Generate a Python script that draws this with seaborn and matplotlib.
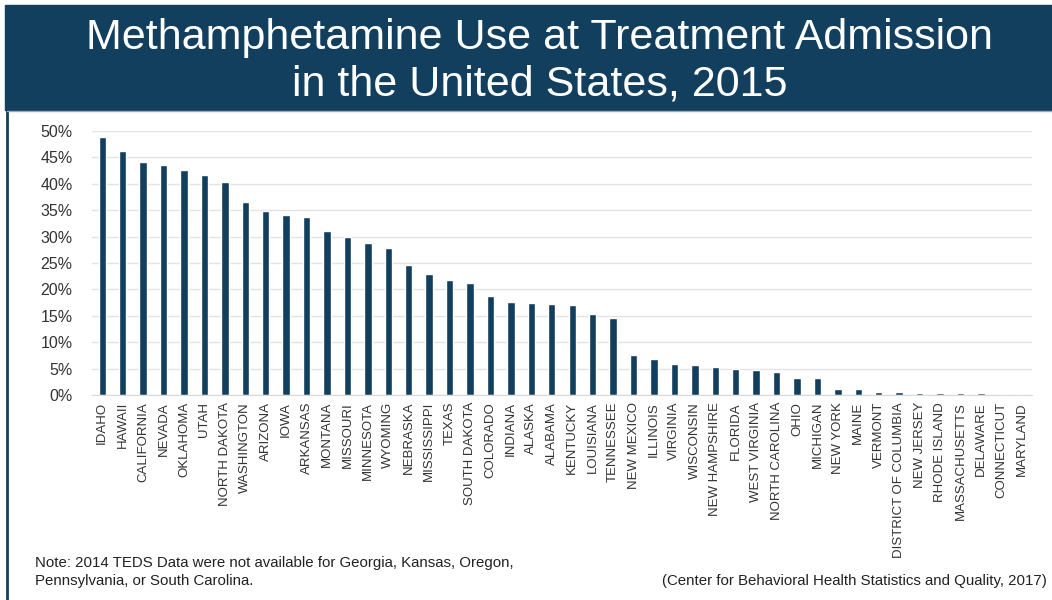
import pandas as pd
import matplotlib.pyplot as plt
import seaborn as sns
from matplotlib.patches import Rectangle
from matplotlib.lines import Line2D
from matplotlib.ticker import PercentFormatter

states = ["IDAHO", "HAWAII", "CALIFORNIA", "NEVADA", "OKLAHOMA", "UTAH",
          "NORTH DAKOTA", "WASHINGTON", "ARIZONA", "IOWA", "ARKANSAS", "MONTANA",
          "MISSOURI", "MINNESOTA", "WYOMING", "NEBRASKA", "MISSISSIPPI", "TEXAS",
          "SOUTH DAKOTA", "COLORADO", "INDIANA", "ALASKA", "ALABAMA", "KENTUCKY",
          "LOUISIANA", "TENNESSEE", "NEW MEXICO", "ILLINOIS", "VIRGINIA", "WISCONSIN",
          "NEW HAMPSHIRE", "FLORIDA", "WEST VIRGINIA", "NORTH CAROLINA", "OHIO",
          "MICHIGAN", "NEW YORK", "MAINE", "VERMONT", "DISTRICT OF COLUMBIA",
          "NEW JERSEY", "RHODE ISLAND", "MASSACHUSETTS", "DELAWARE", "CONNECTICUT",
          "MARYLAND"]
meth_pct = [48.9, 46.3, 44.1, 43.5, 42.7, 41.6,
            40.4, 36.6, 34.9, 34.1, 33.8, 31.1,
            29.9, 28.7, 27.8, 24.6, 23.0, 21.8,
            21.3, 18.8, 17.7, 17.5, 17.3, 17.1,
            15.4, 14.6, 7.5, 6.9, 5.8, 5.6,
            5.3, 4.9, 4.7, 4.4, 3.3,
            3.3, 1.1, 1.1, 0.5, 0.5,
            0.4, 0.4, 0.4, 0.4, 0.1,
            0.1]

title = "Methamphetamine Use at Treatment Admission\nin the United States, 2015"
note = ("Note: 2014 TEDS Data were not available for Georgia, Kansas, Oregon,\n"
        "Pennsylvania, or South Carolina.")
source = "(Center for Behavioral Health Statistics and Quality, 2017)"

navy = "#133f5f"

df = pd.DataFrame({"state": states, "pct": meth_pct})

sns.set_style("white")
plt.rcParams["font.family"] = ["Liberation Sans", "DejaVu Sans"]

fig = plt.figure(figsize=(10.52, 6), dpi=100)

# title band + slide border
fig.patches.append(Rectangle((5 / 1052, 1 - 110 / 600), 1 - 5 / 1052, 105 / 600,
                             transform=fig.transFigure, color=navy, zorder=0))
fig.lines.append(Line2D([7 / 1052, 7 / 1052], [0, 1 - 110 / 600],
                        transform=fig.transFigure, color=navy, lw=2))
fig.lines.append(Line2D([7 / 1052, 1], [1 - 111 / 600, 1 - 111 / 600],
                        transform=fig.transFigure, color="#9aaabb", lw=1))
fig.text(0.513, 1 - 61 / 600, title, ha="center", va="center", color="white",
         fontsize=31, linespacing=1.2)

ax = fig.add_axes([92 / 1052, 1 - 395 / 600, 940 / 1052, 264 / 600])
sns.barplot(data=df, x="state", y="pct", color=navy, saturation=1,
            width=0.36, ax=ax)
ax.set_ylim(0, 50)
ax.set_xlim(-0.5, len(states) - 0.5)
ax.set_yticks(range(0, 51, 5))
ax.yaxis.set_major_formatter(PercentFormatter(decimals=0))
ax.grid(axis="y", color="#e3e3e3", lw=1)
ax.set_axisbelow(True)
for s in ["top", "right", "left"]:
    ax.spines[s].set_visible(False)
ax.spines["bottom"].set_color("#d9d9d9")
ax.tick_params(axis="x", rotation=90, labelsize=9.5, colors="#333333", length=0, pad=5)
ax.tick_params(axis="y", labelsize=11.5, colors="#333333", length=0, pad=14)
ax.set_xlabel("")
ax.set_ylabel("")

fig.text(35 / 1052, 1 - 572 / 600, note, ha="left", va="center", fontsize=10.8,
         color="#222222", linespacing=1.3)
fig.text(1047 / 1052, 1 - 581 / 600, source, ha="right", va="center",
         fontsize=10.8, color="#222222")

plt.savefig("out.png", dpi=100)
